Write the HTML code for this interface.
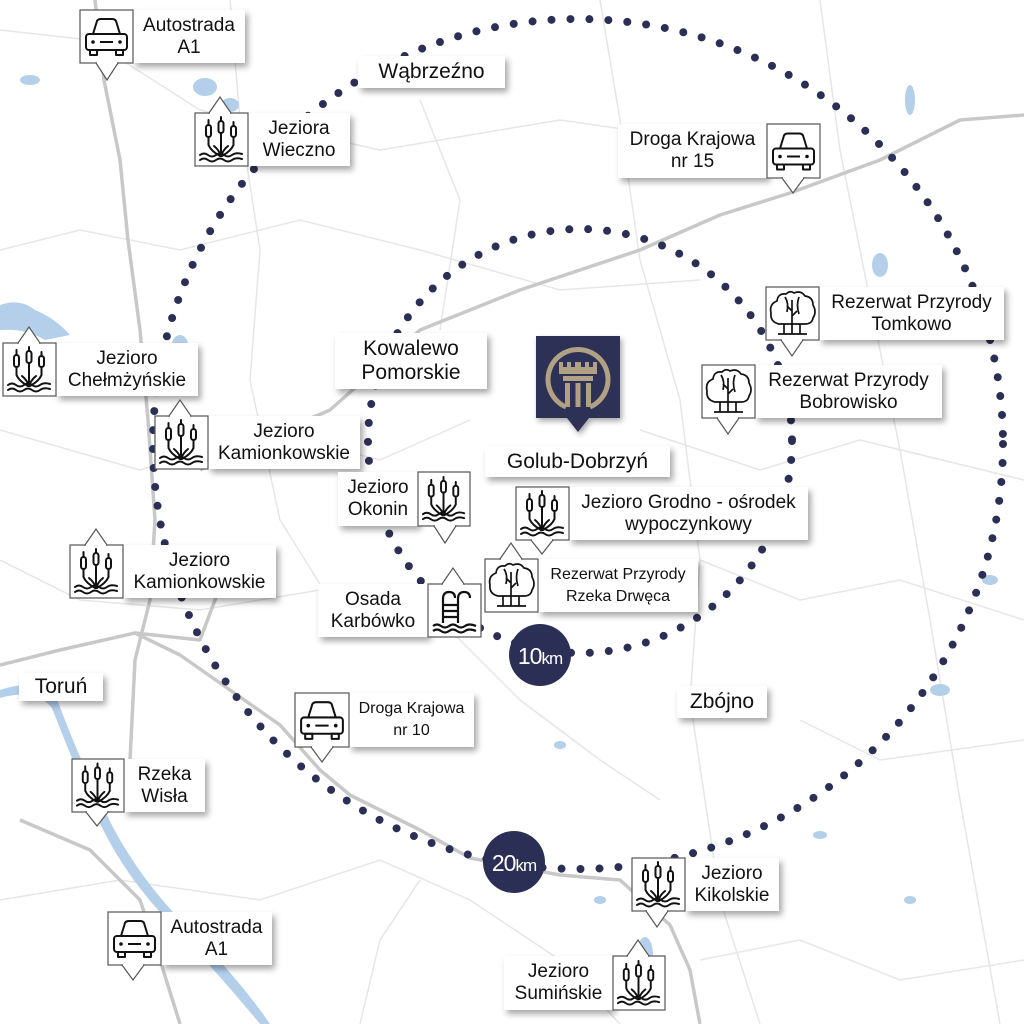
<!DOCTYPE html>
<html><head><meta charset="utf-8"><style>
body{margin:0;width:1024px;height:1024px;overflow:hidden;background:#fff;font-family:"Liberation Sans","DejaVu Sans",sans-serif}
.t{position:absolute;background:#fff;box-shadow:3px 4px 6px rgba(0,0,0,.35);display:flex;align-items:center;justify-content:center;text-align:center;color:#111;font-size:19px;line-height:22px;z-index:1}
svg.top{position:absolute;left:0;top:0;z-index:2}
</style></head><body>
<svg width="1024" height="1024" style="position:absolute;left:0;top:0">
<g fill="none" stroke="#e6e6e6" stroke-width="1.5">
<path d="M0 30 L90 40 L200 110 L380 150 L560 120 L700 140"/>
<path d="M0 250 L80 230 L180 250 L300 220 L420 250 L560 290 L700 280"/>
<path d="M230 0 L240 120 L260 250 L250 380 L280 520 L330 600"/>
<path d="M0 430 L140 470 L260 430 L380 460 L470 420"/>
<path d="M600 0 L620 120 L640 260 L680 400 L700 560 L690 700 L720 900 L760 1024"/>
<path d="M820 0 L840 150 L870 300 L900 450 L930 620 L960 800 L1000 1024"/>
<path d="M700 560 L800 600 L900 580 L1024 620"/>
<path d="M0 900 L120 880 L260 900 L380 860 L470 900 L560 960 L620 1024"/>
<path d="M360 1024 L380 940 L420 880"/>
<path d="M800 720 L880 760 L1024 740"/>
<path d="M640 430 L760 470 L860 440 L1024 480"/>
<path d="M440 620 L520 700 L600 760 L660 800"/>
<path d="M0 560 L80 600 L200 610 L320 590"/>
<path d="M420 100 L460 200 L440 330"/>
<path d="M700 960 L800 940 L900 980 L1024 960"/>
</g>
<g fill="none" stroke="#c8c8c8" stroke-width="3.5" stroke-linejoin="round">
<path d="M95 0 L104 80 L120 160 L128 240 L140 330 L148 420 L155 520 L150 600 L135 660 L130 760"/>
<path d="M0 665 L60 650 L135 633 L180 655 L230 690 L280 725 L320 770 L350 795 L420 830 L470 858 L560 875 L620 880 L670 925 L690 970 L700 1024"/>
<path d="M200 470 L260 440 L330 410 L420 330 L520 290 L640 250 L720 215 L790 193 L880 160 L960 120 L1024 115"/>
<path d="M20 820 L90 850 L140 900 L160 960 L180 1024"/>
<path d="M230 560 L200 640 L135 633"/>
</g>
<g fill="#b3cfea">
<path d="M0 690 Q40 676 58 702 Q80 760 100 800 Q130 870 190 930 Q240 980 270 1024 L260 1024 Q222 978 182 935 Q120 875 92 805 Q70 755 52 708 Q35 688 0 698Z"/>
<ellipse cx="205" cy="87" rx="12" ry="9"/><ellipse cx="230" cy="105" rx="9" ry="7"/>
<path d="M0 305 Q20 298 35 310 Q55 318 70 335 L45 340 Q25 328 0 330Z"/>
<ellipse cx="30" cy="80" rx="10" ry="5"/><ellipse cx="910" cy="100" rx="5" ry="15"/>
<ellipse cx="880" cy="265" rx="8" ry="12"/><ellipse cx="940" cy="690" rx="10" ry="6"/>
<ellipse cx="645" cy="955" rx="8" ry="18"/><ellipse cx="600" cy="900" rx="6" ry="4"/>
<ellipse cx="990" cy="580" rx="8" ry="5"/><ellipse cx="820" cy="835" rx="7" ry="4"/>
<ellipse cx="180" cy="345" rx="8" ry="10"/><ellipse cx="460" cy="610" rx="6" ry="4"/>
<ellipse cx="560" cy="745" rx="6" ry="4"/><ellipse cx="910" cy="900" rx="6" ry="4"/>
</g>
<g fill="none" stroke="#2c2f55" stroke-width="8" stroke-linecap="round" stroke-dasharray="0 19">
<circle cx="578" cy="444" r="425"/>
<circle cx="580" cy="441" r="212"/>
</g>
</svg>

<div class="t" style="left:133px;top:10px;width:112px;height:53px">Autostrada<br>A1</div>
<div class="t" style="left:248px;top:113px;width:102px;height:53px">Jeziora<br>Wieczno</div>
<div class="t" style="left:358px;top:56px;width:147px;height:32px;font-size:21px">Wąbrzeźno</div>
<div class="t" style="left:618px;top:124px;width:149px;height:54px">Droga Krajowa<br>nr 15</div>
<div class="t" style="left:819px;top:287px;width:185px;height:53px">Rezerwat Przyrody<br>Tomkowo</div>
<div class="t" style="left:755px;top:365px;width:187px;height:53px">Rezerwat Przyrody<br>Bobrowisko</div>
<div class="t" style="left:56px;top:343px;width:142px;height:53px">Jezioro<br>Chełmżyńskie</div>
<div class="t" style="left:335px;top:333px;width:152px;height:56px;font-size:21px;line-height:24px">Kowalewo<br>Pomorskie</div>
<div class="t" style="left:208px;top:416px;width:152px;height:53px">Jezioro<br>Kamionkowskie</div>
<div class="t" style="left:485px;top:446px;width:185px;height:31px;font-size:21px">Golub-Dobrzyń</div>
<div class="t" style="left:338px;top:472px;width:80px;height:54px">Jezioro<br>Okonin</div>
<div class="t" style="left:569px;top:487px;width:239px;height:53px">Jezioro Grodno - ośrodek<br>wypoczynkowy</div>
<div class="t" style="left:538px;top:559px;width:160px;height:53px;font-size:16px">Rezerwat Przyrody<br>Rzeka Drwęca</div>
<div class="t" style="left:123px;top:545px;width:153px;height:53px">Jezioro<br>Kamionkowskie</div>
<div class="t" style="left:318px;top:584px;width:110px;height:53px">Osada<br>Karbówko</div>
<div class="t" style="left:19px;top:673px;width:84px;height:28px;font-size:21px">Toruń</div>
<div class="t" style="left:677px;top:686px;width:90px;height:32px;font-size:21px">Zbójno</div>
<div class="t" style="left:349px;top:693px;width:125px;height:54px;font-size:16px">Droga Krajowa<br>nr 10</div>
<div class="t" style="left:124px;top:759px;width:81px;height:53px">Rzeka<br>Wisła</div>
<div class="t" style="left:685px;top:858px;width:94px;height:53px">Jezioro<br>Kikolskie</div>
<div class="t" style="left:161px;top:912px;width:111px;height:53px">Autostrada<br>A1</div>
<div class="t" style="left:504px;top:956px;width:109px;height:54px">Jezioro<br>Sumińskie</div>

<svg class="top" width="1024" height="1024">
<defs>
<symbol id="reed" viewBox="0 0 53 53">
<g fill="none" stroke="#111" stroke-width="2" stroke-linecap="round">
<rect x="11" y="12" width="5" height="12" rx="2.5"/><rect x="23.5" y="8" width="5" height="12" rx="2.5"/><rect x="36" y="13" width="5" height="11" rx="2.5"/>
<path d="M13.5 24 L13.5 32 Q16 38 25 43"/><path d="M26 20 L26 43"/><path d="M38.5 24 L38.5 32 Q36 38 27 43"/>
<path d="M13.5 7 L13.5 12 M26 4 L26 8 M38.5 9 L38.5 13"/>
<path d="M19 33 Q24 37 26 43 M33 33 Q28 37 26 43"/>
<path d="M5 42 Q9 39 13 42 T21 42 T29 42 T37 42 T47 41"/>
<path d="M5 47 Q9 44 13 47 T21 47 T29 47 T37 47 T47 46"/>
</g></symbol>
<symbol id="car" viewBox="0 0 53 53">
<g fill="none" stroke="#111" stroke-width="2" stroke-linejoin="round">
<path d="M13 24 L17 11 Q18 9 21 9 L32 9 Q35 9 36 11 L40 24"/>
<rect x="6" y="24" width="41" height="16" rx="3"/>
<rect x="10" y="40" width="7" height="5"/><rect x="36" y="40" width="7" height="5"/>
<path d="M20 32 L33 32"/></g>
<circle cx="13" cy="32" r="1.8" fill="#111"/><circle cx="40" cy="32" r="1.8" fill="#111"/></symbol>
<symbol id="tree" viewBox="0 0 53 53">
<g fill="none" stroke="#111" stroke-width="1.7">
<path d="M13 37 Q4 35 5 26 Q3 17 11 14 Q12 6 20 7 Q24 3 28 6 Q35 3 39 9 Q47 10 47 18 Q51 25 47 31 Q46 37 39 37 Z"/>
<path d="M19 10 Q23 16 21 25 M33 10 Q30 18 33 27"/>
<path d="M26 13 L26 47 M26 24 L21 19 M26 29 L31 24 M18 37 L18 47 M34 37 L34 47 M12 47 L41 47"/>
</g></symbol>
<symbol id="pool" viewBox="0 0 53 53">
<g fill="none" stroke="#111" stroke-width="2.2">
<path d="M15 39 L15 15 Q15 8 21 8 Q27 8 27 14"/><path d="M30 39 L30 15 Q30 8 36 8 Q42 8 42 14"/>
<path d="M15 21 L30 21 M15 27 L30 27 M15 33 L30 33"/>
<path d="M5 42 Q9 39 13 42 T21 42 T29 42 T37 42 T48 42"/>
<path d="M5 47 Q9 44 13 47 T21 47 T29 47 T37 47 T48 47"/></g></symbol>
</defs>
<g fill="#fff" stroke="#555" stroke-width="1.2">
<rect x="80" y="10" width="53" height="53"/><polygon points="96,63 107,80 118,63"/>
<rect x="195" y="113" width="53" height="53"/><polygon points="209,113 220,97 231,113"/>
<rect x="767" y="124" width="53" height="54"/><polygon points="782,178 793,193 804,178"/>
<rect x="766" y="287" width="53" height="53"/><polygon points="781,340 792,356 803,340"/>
<rect x="702" y="365" width="53" height="53"/><polygon points="717,418 728,434 739,418"/>
<rect x="3" y="343" width="53" height="53"/><polygon points="18,343 29,327 40,343"/>
<rect x="155" y="416" width="53" height="53"/><polygon points="169,416 180,400 191,416"/>
<rect x="418" y="472" width="52" height="54"/><polygon points="434,526 445,543 456,526"/>
<rect x="516" y="487" width="53" height="53"/><polygon points="531,540 542,554 553,540"/>
<rect x="485" y="559" width="53" height="53"/><polygon points="500,559 511,543 522,559"/>
<rect x="70" y="545" width="53" height="53"/><polygon points="85,545 96,529 107,545"/>
<rect x="428" y="584" width="53" height="53"/><polygon points="442,584 453,568 464,584"/>
<rect x="295" y="693" width="54" height="54"/><polygon points="311,747 322,762 333,747"/>
<rect x="72" y="759" width="52" height="53"/><polygon points="86,812 97,826 108,812"/>
<rect x="632" y="858" width="53" height="53"/><polygon points="646,911 657,927 668,911"/>
<rect x="108" y="912" width="53" height="53"/><polygon points="122,965 133,980 144,965"/>
<rect x="613" y="956" width="52" height="54"/><polygon points="627,956 638,940 649,956"/>
</g>
<g stroke="#fff" stroke-width="2">
<path d="M97 63 L117 63 M210 113 L230 113 M783 178 L803 178 M782 340 L802 340 M718 418 L738 418 M19 343 L39 343 M170 416 L190 416 M435 526 L455 526 M532 540 L552 540 M501 559 L521 559 M86 545 L106 545 M443 584 L463 584 M312 747 L332 747 M87 812 L107 812 M647 911 L667 911 M123 965 L143 965 M628 956 L648 956"/>
</g>
<use href="#car" x="80" y="10" width="53" height="53"/>
<use href="#reed" x="195" y="113" width="53" height="53"/>
<use href="#car" x="767" y="124" width="53" height="54"/>
<use href="#tree" x="766" y="287" width="53" height="53"/>
<use href="#tree" x="702" y="365" width="53" height="53"/>
<use href="#reed" x="3" y="343" width="53" height="53"/>
<use href="#reed" x="155" y="416" width="53" height="53"/>
<use href="#reed" x="418" y="472" width="52" height="54"/>
<use href="#reed" x="516" y="487" width="53" height="53"/>
<use href="#tree" x="485" y="559" width="53" height="53"/>
<use href="#reed" x="70" y="545" width="53" height="53"/>
<use href="#pool" x="428" y="584" width="53" height="53"/>
<use href="#car" x="295" y="693" width="54" height="54"/>
<use href="#reed" x="72" y="759" width="52" height="53"/>
<use href="#reed" x="632" y="858" width="53" height="53"/>
<use href="#car" x="108" y="912" width="53" height="53"/>
<use href="#reed" x="613" y="956" width="52" height="54"/>

<path d="M536 336 L620 336 L620 418 L589 418 L578 432 L567 418 L536 418 Z" fill="#2e3156" style="filter:drop-shadow(2px 3px 3px rgba(0,0,0,.35))"/>
<g fill="none" stroke="#b0a184" stroke-width="5">
<path d="M566 407 A30 30 0 1 1 590 407"/>
</g>
<g fill="#b0a184">
<path d="M559 362 L563 362 L563 367 L567 367 L567 362 L571 362 L571 367 L575 367 L575 362 L581 362 L581 367 L585 367 L585 362 L589 362 L589 367 L593 367 L593 362 L597 362 L597 374 L559 374 Z"/>
<rect x="563" y="376" width="30" height="5"/>
<rect x="565" y="383" width="5" height="24"/><rect x="575.5" y="383" width="5" height="24"/><rect x="586" y="383" width="5" height="24"/>
</g>

<circle cx="540" cy="655" r="31" fill="#2c2f55"/>
<text x="540" y="664" fill="#fff" font-family="Liberation Sans Narrow, Liberation Sans, sans-serif" font-size="23" text-anchor="middle" letter-spacing="-1">10<tspan font-size="17">km</tspan></text>
<circle cx="514" cy="862" r="31" fill="#2c2f55"/>
<text x="514" y="871" fill="#fff" font-family="Liberation Sans Narrow, Liberation Sans, sans-serif" font-size="23" text-anchor="middle" letter-spacing="-1">20<tspan font-size="17">km</tspan></text>
</svg>
</body></html>
